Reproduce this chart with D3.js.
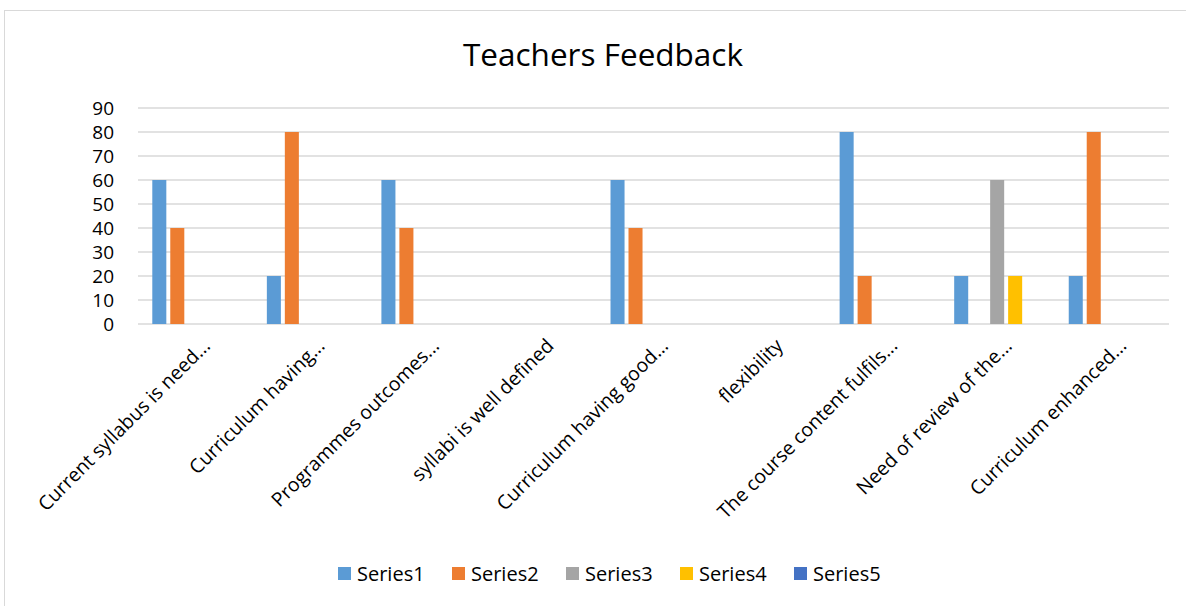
<!DOCTYPE html>
<html><head><meta charset="utf-8">
<script src="https://cdn.jsdelivr.net/npm/d3@7"></script>
<style>
body{margin:0;background:#fff;}
text{font-family:"Open Sans","Noto Sans",sans-serif;fill:#000;}
</style></head>
<body><svg id="c" width="1186" height="606"></svg>
<script>
const categories = ["Current syllabus is need...","Curriculum having...","Programmes outcomes...","syllabi is well defined","Curriculum having good...","flexibility","The course content fulfils...","Need of review of the...","Curriculum enhanced..."];
const seriesNames = ["Series1","Series2","Series3","Series4","Series5"];
const series1 = [60,20,60,0,60,0,80,20,20];
const series2 = [40,80,40,0,40,0,20,0,80];
const series3 = [0,0,0,0,0,0,0,60,0];
const series4 = [0,0,0,0,0,0,0,20,0];
const series5 = [0,0,0,0,0,0,0,0,0];
const yTicks = [0,10,20,30,40,50,60,70,80,90];
const colors = ["#5B9BD5","#ED7D31","#A5A5A5","#FFC000","#4472C4"];
const allSeries = [series1,series2,series3,series4,series5];

const svg = d3.select("#c");
svg.append("rect").attr("x",4.5).attr("y",10.5).attr("width",1190).attr("height",600)
  .attr("fill","#fff").attr("stroke","#D9D9D9");

const L=138,R=1169,T=108,B=324;
const x0 = d3.scaleBand().domain(categories).range([L,R]).paddingInner(0.215).paddingOuter(0.1075);
const x1 = d3.scaleBand().domain(seriesNames).range([0,x0.bandwidth()]).paddingInner(0.22).paddingOuter(0.11);
const y = d3.scaleLinear().domain([0,90]).range([B,T]);

svg.append("text").attr("x",603).attr("y",66).attr("text-anchor","middle")
  .style("font-size","31.5px").text("Teachers Feedback");

const grid = svg.append("g");
grid.selectAll("line").data(yTicks).join("line")
  .attr("x1",L).attr("x2",R).attr("y1",d=>y(d)).attr("y2",d=>y(d))
  .attr("stroke","#D9D9D9").attr("stroke-width",1.5);

const yAxis = svg.append("g").attr("transform",`translate(${L},0)`)
  .call(d3.axisLeft(y).tickValues(yTicks).tickSize(0).tickPadding(24));
yAxis.select(".domain").remove();
yAxis.selectAll("text").style("font-size","19px").style("font-family",'"Open Sans",sans-serif').attr("fill","#000");

const groups = svg.append("g").selectAll("g").data(categories).join("g")
  .attr("transform",d=>`translate(${x0(d)},0)`);
groups.selectAll("rect").data((c,i)=>seriesNames.map((s,j)=>({s,j,v:allSeries[j][i]}))).join("rect")
  .attr("x",d=>x1(d.s)).attr("width",x1.bandwidth())
  .attr("y",d=>y(d.v)).attr("height",d=>B-y(d.v)).attr("fill",d=>colors[d.j]);

const xAxis = svg.append("g").attr("transform",`translate(0,${B})`)
  .call(d3.axisBottom(x0).tickSize(0).tickFormat(d=>d));
xAxis.select(".domain").remove();
xAxis.selectAll("text").style("font-size","19.5px").style("font-family",'"Open Sans",sans-serif').attr("fill","#000")
  .attr("text-anchor","end").attr("dy",0).attr("y",0)
  .attr("transform","translate(16,23) rotate(-45)");

const leg = svg.append("g").selectAll("g").data(seriesNames).join("g")
  .attr("transform",(d,i)=>`translate(${338+i*114},567)`);
leg.append("rect").attr("width",13).attr("height",13).attr("fill",(d,i)=>colors[i]);
leg.append("text").attr("x",19).attr("y",14).style("font-size","20px").text(d=>d);
</script></body></html>
